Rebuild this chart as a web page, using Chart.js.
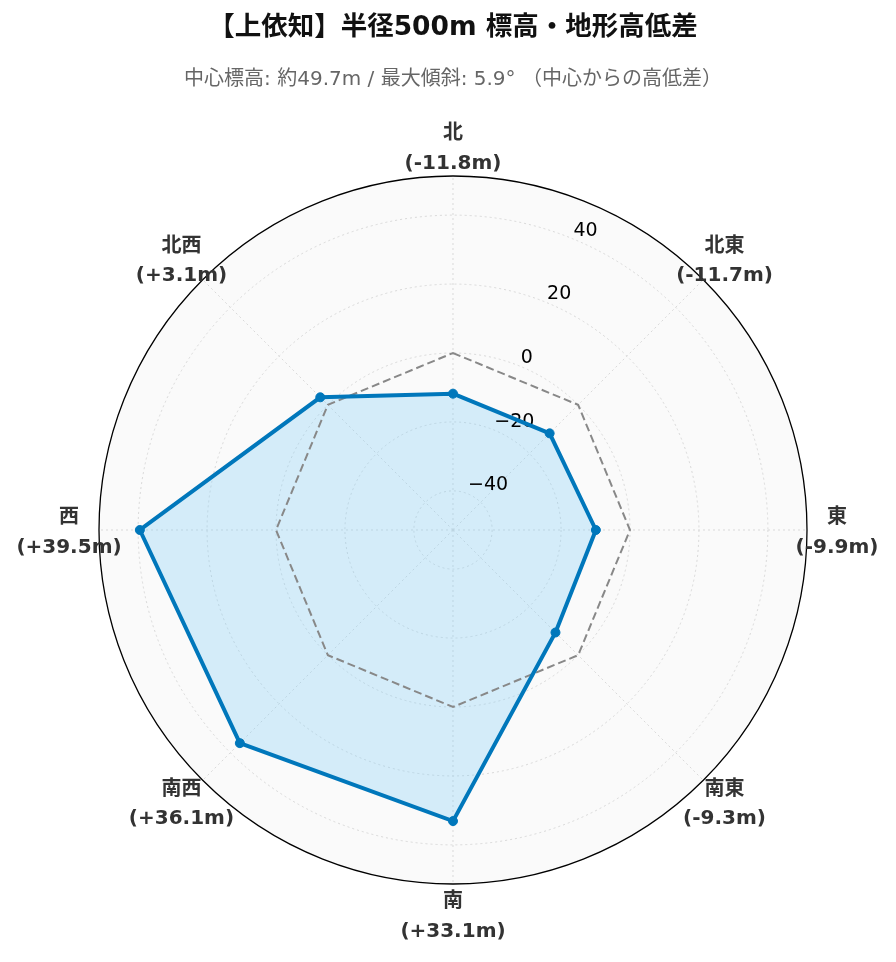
<!DOCTYPE html>
<html>
<head>
<meta charset="utf-8">
<script src="https://cdn.jsdelivr.net/npm/chart.js@4.4.1/dist/chart.umd.min.js"></script>
<style>
  html, body { margin: 0; padding: 0; background: #ffffff; }
</style>
</head>
<body>
<canvas id="chart" width="896" height="962"></canvas>
<script>
// directions clockwise from north
const directions = ['北', '北東', '東', '南東', '南', '南西', '西', '北西'];
// elevation difference from the centre point (m)
const elevationDiff = [-11.8, -11.7, -9.9, -9.3, 33.1, 36.1, 39.5, 3.1];
// reference ring (centre elevation = 0)
const centreLine = [0, 0, 0, 0, 0, 0, 0, 0];
const tickValues = [-40, -20, 0, 20, 40];
const rLimit = 51.35;

const baseFont = '"DejaVu Sans", "Noto Sans CJK JP", sans-serif';

function labelFor(i) {
  let v = elevationDiff[i];
  let sign = v >= 0 ? '+' : '-';
  return [directions[i], '(' + sign + Math.abs(v).toFixed(1) + 'm)'];
}

// light gray disc behind the grid
const discBackground = {
  id: 'discBackground',
  beforeDraw(chart) {
    let s = chart.scales.r;
    let ctx = chart.ctx;
    ctx.save();
    ctx.fillStyle = '#fafafa';
    ctx.beginPath();
    ctx.arc(s.xCenter, s.yCenter, s.drawingArea, 0, Math.PI * 2);
    ctx.fill();
    ctx.restore();
  }
};

// radial tick labels along the 22.5 degree spoke
const radialTicks = {
  id: 'radialTicks',
  beforeDatasetsDraw(chart) {
    let s = chart.scales.r;
    let ctx = chart.ctx;
    let ang = -Math.PI / 2 + Math.PI / 8;
    ctx.save();
    ctx.font = '19px ' + baseFont;
    ctx.fillStyle = '#000000';
    ctx.textAlign = 'left';
    ctx.textBaseline = 'bottom';
    tickValues.forEach(v => {
      let r = s.getDistanceFromCenterForValue(v);
      let x = s.xCenter + Math.cos(ang) * r;
      let y = s.yCenter + Math.sin(ang) * r + 1;
      let txt = v < 0 ? '\u2212' + Math.abs(v) : String(v);
      ctx.fillText(txt, x, y);
    });
    ctx.restore();
  }
};

// two-line direction labels centred outside the circle
const directionLabels = {
  id: 'directionLabels',
  afterDraw(chart) {
    let s = chart.scales.r;
    let ctx = chart.ctx;
    ctx.save();
    ctx.font = 'bold 20px ' + baseFont;
    ctx.fillStyle = '#333333';
    ctx.textAlign = 'center';
    ctx.textBaseline = 'middle';
    directions.forEach((d, i) => {
      let p = s.getPointPosition(i, s.drawingArea + 30);
      let lines = labelFor(i);
      ctx.fillText(lines[0], p.x, p.y - 12);
      ctx.fillText(lines[1], p.x, p.y + 17.5);
    });
    ctx.restore();
  }
};

const data = {
  labels: directions,
  datasets: [
    {
      label: '高低差',
      data: elevationDiff,
      borderColor: '#0077bb',
      backgroundColor: 'rgba(125, 205, 250, 0.3)',
      borderWidth: 4,
      fill: 'start',
      pointRadius: 4.5,
      pointBackgroundColor: '#0077bb',
      pointBorderColor: '#0077bb',
      pointBorderWidth: 1
    },
    {
      label: '中心標高',
      data: centreLine,
      borderColor: '#888888',
      borderWidth: 2,
      borderDash: [8, 4],
      fill: false,
      pointRadius: 0
    }
  ]
};

const config = {
  type: 'radar',
  data: data,
  options: {
    responsive: false,
    animation: false,
    layout: {
      padding: { left: 98, right: 88, top: 0, bottom: 77 }
    },
    elements: {
      line: { tension: 0 }
    },
    scales: {
      r: {
        min: -rLimit,
        max: rLimit,
        afterBuildTicks: scale => {
          scale.ticks = tickValues.concat([rLimit]).map(v => ({ value: v }));
        },
        grid: {
          circular: true,
          color: ctx => (ctx.tick && ctx.tick.value === rLimit) ? '#000000' : '#d9d9d9',
          lineWidth: ctx => (ctx.tick && ctx.tick.value === rLimit) ? 1.3 : 1
        },
        border: {
          dash: ctx => (ctx.tick && ctx.tick.value === rLimit) ? [] : [2, 3]
        },
        angleLines: {
          color: '#d9d9d9',
          lineWidth: 1,
          borderDash: [2, 3]
        },
        ticks: { display: false },
        pointLabels: { display: false }
      }
    },
    plugins: {
      legend: { display: false },
      tooltip: { enabled: false },
      filler: { drawTime: 'beforeDatasetsDraw' },
      title: {
        display: true,
        text: '【上依知】半径500m 標高・地形高低差',
        color: '#111111',
        font: { family: baseFont, size: 26.5, weight: 'bold', lineHeight: 1.2 },
        padding: { top: 12, bottom: 0 }
      },
      subtitle: {
        display: true,
        text: '中心標高: 約49.7m / 最大傾斜: 5.9° （中心からの高低差）',
        color: '#666666',
        font: { family: baseFont, size: 20, lineHeight: 1.2 },
        padding: { top: 24, bottom: 84.4 }
      }
    }
  },
  plugins: [discBackground, radialTicks, directionLabels]
};

var chart = new Chart(document.getElementById('chart'), config);
</script>
</body>
</html>
